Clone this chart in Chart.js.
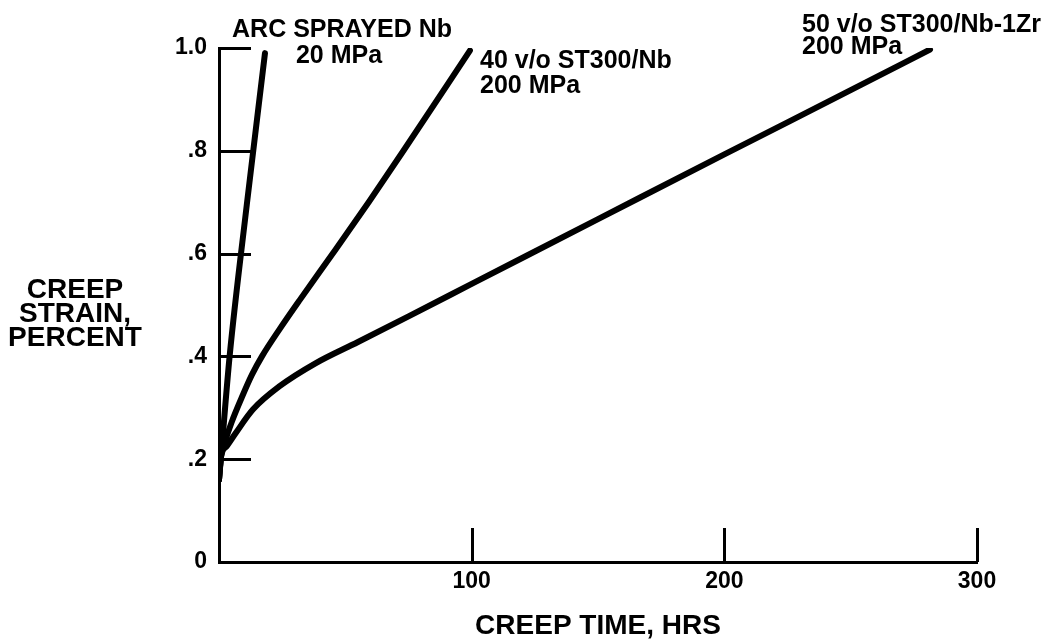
<!DOCTYPE html>
<html>
<head>
<meta charset="utf-8">
<script src="https://cdn.jsdelivr.net/npm/chart.js@4.4.1/dist/chart.umd.min.js"></script>
<style>
  body { margin: 0; background: #fff; }
  canvas { display: block; }
</style>
</head>
<body>
<canvas id="creepChart" width="1054" height="643"></canvas>
<script>
// creep time (hrs) and creep strain (percent)
const arcTime = [0, 0.8, 4.2, 11, 18.2];
const arcStrain = [0.16, 0.205, 0.4, 0.695, 0.99];

const st300NbTime = [0, 0.8, 2.5, 5, 9, 13, 17, 24, 32, 46.3, 59.5, 73, 99.3];
const st300NbStrain = [0.16, 0.205, 0.236, 0.272, 0.32, 0.364, 0.4, 0.453, 0.51, 0.609, 0.702, 0.8, 0.995];

const st300NbZrTime = [0, 0.8, 3, 6.5, 13.5, 24, 38, 55, 75, 100, 150, 200, 250, 281.4];
const st300NbZrStrain = [0.16, 0.205, 0.225, 0.25, 0.297, 0.342, 0.386, 0.428, 0.478, 0.541, 0.667, 0.793, 0.918, 0.997];

const xTickValues = [100, 200, 300];
const xTickLabels = ['100', '200', '300'];
const yTickValues = [0, 0.2, 0.4, 0.6, 0.8, 1.0];
const yTickLabels = ['0', '.2', '.4', '.6', '.8', '1.0'];

const xTitle = 'CREEP TIME, HRS';
const yTitle = ['CREEP', 'STRAIN,', 'PERCENT'];

const FONT = '"Liberation Sans", Arial, Helvetica, sans-serif';

function toPoints(xs, ys) {
    return xs.map((x, i) => ({ x: x, y: ys[i] }));
}

function curve(label, xs, ys) {
    return {
        label: label,
        data: toPoints(xs, ys),
        borderColor: '#000',
        borderWidth: 6,
        borderCapStyle: 'round',
        borderJoinStyle: 'round',
        pointRadius: 0,
        fill: false,
        cubicInterpolationMode: 'monotone'
    };
}

// inward tick marks, text labels and axis titles
const decorPlugin = {
    id: 'decor',
    beforeDatasetsDraw(chart) {
        const c = chart.ctx;
        const x = chart.scales.x;
        const y = chart.scales.y;
        const area = chart.chartArea;
        c.save();
        c.strokeStyle = '#000';
        c.lineWidth = 3;
        c.beginPath();
        yTickValues.forEach(v => {
            if (v === 0) return;
            const py = Math.round(y.getPixelForValue(v)) + 0.5;
            c.moveTo(area.left, py);
            c.lineTo(area.left + 32, py);
        });
        xTickValues.forEach(v => {
            const px = Math.round(x.getPixelForValue(v)) + 0.5;
            c.moveTo(px, area.bottom);
            c.lineTo(px, area.bottom - 34);
        });
        c.stroke();
        c.restore();
    },
    afterDraw(chart) {
        const c = chart.ctx;
        const area = chart.chartArea;
        c.save();
        c.fillStyle = '#000';
        c.textBaseline = 'alphabetic';

        c.font = 'bold 28px ' + FONT;
        c.textAlign = 'center';
        yTitle.forEach((line, i) => c.fillText(line, 75, 298 + i * 24));
        c.fillText(xTitle, (area.left + area.right) / 2, 634);

        c.font = 'bold 25px ' + FONT;
        c.fillText('ARC SPRAYED Nb', 342, 37);
        c.fillText('20 MPa', 339, 63);

        c.textAlign = 'left';
        c.fillText('40 v/o ST300/Nb', 480, 68);
        c.fillText('200 MPa', 480, 93);
        c.fillText('50 v/o ST300/Nb-1Zr', 802, 32);
        c.fillText('200 MPa', 802, 54);
        c.restore();
    }
};

const ctx = document.getElementById('creepChart').getContext('2d');
const creepChart = new Chart(ctx, {
    type: 'line',
    data: {
        datasets: [
            curve('ARC SPRAYED Nb 20 MPa', arcTime, arcStrain),
            curve('40 v/o ST300/Nb 200 MPa', st300NbTime, st300NbStrain),
            curve('50 v/o ST300/Nb-1Zr 200 MPa', st300NbZrTime, st300NbZrStrain)
        ]
    },
    options: {
        responsive: false,
        animation: false,
        layout: { padding: { top: 48, right: 77, left: 0, bottom: 0 } },
        plugins: {
            legend: { display: false },
            tooltip: { enabled: false }
        },
        scales: {
            x: {
                type: 'linear',
                min: 0,
                max: 300,
                afterFit: s => { s.height = 81; },
                afterBuildTicks: s => { s.ticks = xTickValues.map(v => ({ value: v })); },
                grid: { display: false, drawTicks: false },
                border: { display: true, color: '#000', width: 3 },
                ticks: {
                    color: '#000',
                    padding: 6,
                    maxRotation: 0,
                    autoSkip: false,
                    font: { family: FONT, size: 23, weight: 'bold' },
                    callback: (value, i) => xTickLabels[i]
                }
            },
            y: {
                type: 'linear',
                min: 0,
                max: 1.0,
                afterFit: s => { s.width = 219; },
                afterBuildTicks: s => { s.ticks = yTickValues.map(v => ({ value: v })); },
                grid: { display: false, drawTicks: false },
                border: { display: true, color: '#000', width: 3 },
                ticks: {
                    color: '#000',
                    padding: 12,
                    autoSkip: false,
                    font: { family: FONT, size: 23, weight: 'bold' },
                    callback: (value, i) => yTickLabels[i]
                }
            }
        }
    },
    plugins: [decorPlugin]
});
</script>
</body>
</html>
